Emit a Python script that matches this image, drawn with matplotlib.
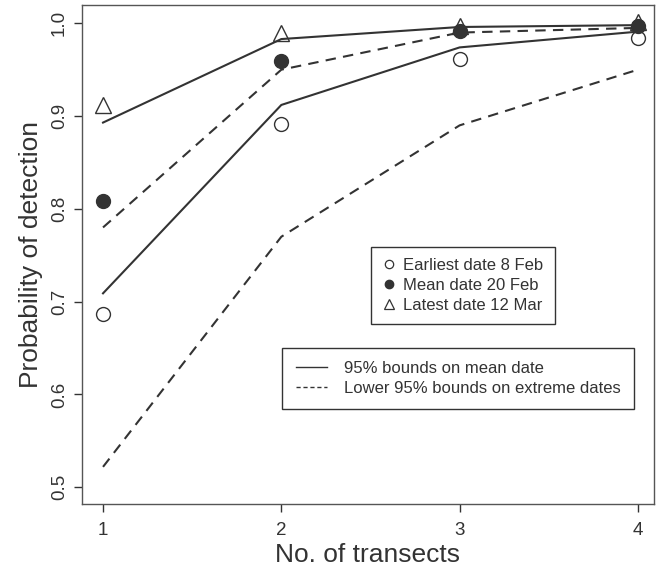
import matplotlib
matplotlib.use('Agg')
from matplotlib import pyplot as plt
from matplotlib.lines import Line2D

plt.rcParams['font.family'] = ['Liberation Sans', 'DejaVu Sans']

# data
transects = [1, 2, 3, 4]
earliest = [0.687, 0.892, 0.962, 0.984]
mean_date = [0.809, 0.959, 0.992, 0.997]
latest = [0.912, 0.989, 0.997, 1.001]
mean_upper = [0.893, 0.983, 0.996, 0.998]
mean_lower = [0.709, 0.912, 0.974, 0.991]
extreme_upper = [0.780, 0.950, 0.990, 0.995]
extreme_lower = [0.522, 0.770, 0.890, 0.950]

ink = '#333333'

fig = plt.figure(figsize=(6.58, 5.68), dpi=100)
ax = fig.add_axes([0.1246, 0.1127, 0.8693, 0.8785])

dash = (0, (5, 3.5))
ax.plot(transects, mean_upper, color=ink, lw=1.5)
ax.plot(transects, mean_lower, color=ink, lw=1.5)
ax.plot(transects, extreme_upper, color=ink, lw=1.5, linestyle=dash)
ax.plot(transects, extreme_lower, color=ink, lw=1.5, linestyle=dash)

ax.plot(transects, earliest, 'o', ms=10, mfc='white', mec=ink, mew=1.0, linestyle='none')
ax.plot(transects, mean_date, 'o', ms=10, mfc=ink, mec=ink, linestyle='none')
ax.plot(transects, latest, '^', ms=12, mfc='none', mec=ink, mew=1.0, linestyle='none')

ax.set_xlim(0.882, 4.09)
ax.set_ylim(0.482, 1.0197)
ax.set_xticks(transects)
ax.set_yticks([0.5, 0.6, 0.7, 0.8, 0.9, 1.0])
ax.set_yticklabels(['0.5', '0.6', '0.7', '0.8', '0.9', '1.0'], rotation=90, va='center')
ax.tick_params(colors=ink, labelsize=13.5, length=6, width=1.0, pad=4)
ax.tick_params(axis='x', pad=7)
for s in ax.spines.values():
    s.set_color('#555555')
    s.set_linewidth(1.0)

ax.set_xlabel('No. of transects', fontsize=19, color=ink, labelpad=3)
ax.set_ylabel('Probability of detection', fontsize=19, color=ink, labelpad=6)

# legend with point symbols
pts = [Line2D([], [], marker='o', ms=6, mfc='white', mec=ink, mew=0.9, linestyle='none'),
       Line2D([], [], marker='o', ms=6, mfc=ink, mec=ink, linestyle='none'),
       Line2D([], [], marker='^', ms=7, mfc='white', mec=ink, mew=0.9, linestyle='none')]
leg1 = ax.legend(pts, ['Earliest date 8 Feb', 'Mean date 20 Feb', 'Latest date 12 Mar'],
                 loc='upper left', bbox_to_anchor=(0.505, 0.516), fontsize=12,
                 frameon=True, fancybox=False, edgecolor=ink, framealpha=1,
                 handlelength=0.8, handletextpad=0.45, borderpad=0.7,
                 labelspacing=0.28, borderaxespad=0)
leg1.get_frame().set_linewidth(1.0)
for t in leg1.get_texts():
    t.set_color(ink)
ax.add_artist(leg1)

# legend with line styles
lns = [Line2D([], [], color=ink, lw=1.0),
       Line2D([], [], color=ink, lw=1.0, linestyle=(0, (3, 2)))]
leg2 = ax.legend(lns, ['95% bounds on mean date', 'Lower 95% bounds on extreme dates'],
                 loc='upper left', bbox_to_anchor=(0.35, 0.313), fontsize=12,
                 frameon=True, fancybox=False, edgecolor=ink, framealpha=1,
                 handlelength=1.9, handletextpad=1.0, borderpad=0.8,
                 labelspacing=0.3, borderaxespad=0)
leg2.get_frame().set_linewidth(1.0)
for t in leg2.get_texts():
    t.set_color(ink)

plt.savefig('out.png', dpi=100)
